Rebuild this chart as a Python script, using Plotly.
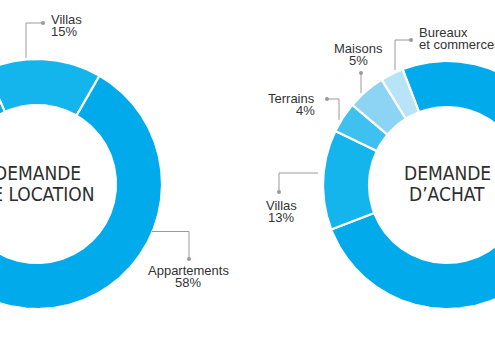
import numpy as np
import plotly.graph_objects as go

# Demande de location
loc_labels = ["Villas", "Appartements", "Autres"]
loc_values = [15, 58, 27]
loc_colors = ["#14b4ec", "#00aaeb", "#06adeb"]

# Demande d'achat
achat_labels = ["Appartements", "Villas", "Terrains", "Maisons", "Bureaux et commerces"]
achat_values = [75, 13, 4, 5, 3]
achat_colors = ["#00aaeb", "#14b4ec", "#3fc1f0", "#8dd4f4", "#b8e4f7"]

W, H = 495, 339
GRAY_LINE = "#9a9a9a"
TEXT = "#333333"
LABEL_FONT = "Liberation Sans, Arial, sans-serif"
TITLE_FONT = "DejaVu Sans Condensed, Liberation Sans Narrow, sans-serif"

fig = go.Figure()


def ring_point(cx, cy, r, deg):
    t = np.radians(deg)
    return cx + r * np.sin(t), cy - r * np.cos(t)


def add_donut(cx, cy, r_out, r_in, labels, values, colors, rotation):
    total = float(sum(values))
    start = rotation
    for lab, val, col in zip(labels, values, colors):
        span = 360.0 * val / total
        a = np.linspace(start, start + span, max(8, int(span * 2)))
        xo, yo = ring_point(cx, cy, r_out, a)
        xi, yi = ring_point(cx, cy, r_in, a[::-1])
        xs = np.concatenate([xo, xi, xo[:1]])
        ys = np.concatenate([yo, yi, yo[:1]])
        fig.add_trace(go.Scatter(
            x=xs, y=ys, mode="lines", fill="toself", fillcolor=col,
            line=dict(color="white", width=2.2), name=lab,
            hoverinfo="name", showlegend=False,
        ))
        start += span


# left ring is clipped by the page edge, right ring too
add_donut(37, 184, 125, 79, loc_labels, loc_values, loc_colors, -24)
add_donut(447, 185, 124, 78, achat_labels, achat_values, achat_colors, -21)

# ring titles
for cx, cy, lines in [(37, 183, ["DEMANDE", "DE LOCATION"]),
                      (447, 183, ["DEMANDE", "D\u2019ACHAT"])]:
    for i, txt in enumerate(lines):
        fig.add_annotation(
            x=cx, y=cy - 10.5 + 21 * i, text=txt, showarrow=False,
            xanchor="center", yanchor="middle",
            font=dict(family=TITLE_FONT, size=19, color="#2e2e2e"),
        )

# callouts: (label text lines, text anchor x, first-line y, align, leader path)
loc_pct = dict(zip(loc_labels, loc_values))
achat_pct = dict(zip(achat_labels, achat_values))
callouts = [
    (["Villas", f"{loc_pct['Villas']}%"], 49, 19, "left",
     [(26, 58), (26, 23), (43, 23)]),
    (["Appartements", f"{loc_pct['Appartements']}%"], 188, 270, "center",
     [(152, 231.5), (189, 231.5), (189, 259)]),
    (["Bureaux", f"et commerces {achat_pct['Bureaux et commerces']}%"], 417, 32, "left",
     [(395, 70), (395, 40), (411, 40)]),
    (["Maisons", f"{achat_pct['Maisons']}%"], 358, 48, "center",
     [(361, 93), (361, 73)]),
    (["Terrains", f"{achat_pct['Terrains']}%"], 317, 98, "right",
     [(339, 120), (339, 99), (327, 99)]),
    (["Villas", f"{achat_pct['Villas']}%"], 281, 205, "center",
     [(318, 173), (279, 173), (279, 192)]),
]

dot_x, dot_y = [], []
for lines, tx, ty, align, path in callouts:
    px, py = zip(*path)
    fig.add_trace(go.Scatter(
        x=list(px), y=list(py), mode="lines",
        line=dict(color=GRAY_LINE, width=1), hoverinfo="skip", showlegend=False,
    ))
    dot_x.append(px[-1])
    dot_y.append(py[-1])
    for i, txt in enumerate(lines):
        fig.add_annotation(
            x=tx, y=ty + 12 * i, text=txt, showarrow=False,
            xanchor=align, yanchor="middle", align=align,
            font=dict(family=LABEL_FONT, size=13, color=TEXT),
        )

fig.add_trace(go.Scatter(
    x=dot_x, y=dot_y, mode="markers",
    marker=dict(color=GRAY_LINE, size=4), hoverinfo="skip", showlegend=False,
))

fig.update_layout(
    width=W, height=H,
    margin=dict(l=0, r=0, t=0, b=0),
    paper_bgcolor="white", plot_bgcolor="white",
    xaxis=dict(range=[0, W], visible=False, fixedrange=True),
    yaxis=dict(range=[H, 0], visible=False, fixedrange=True),
)

fig.write_html("out.html")
